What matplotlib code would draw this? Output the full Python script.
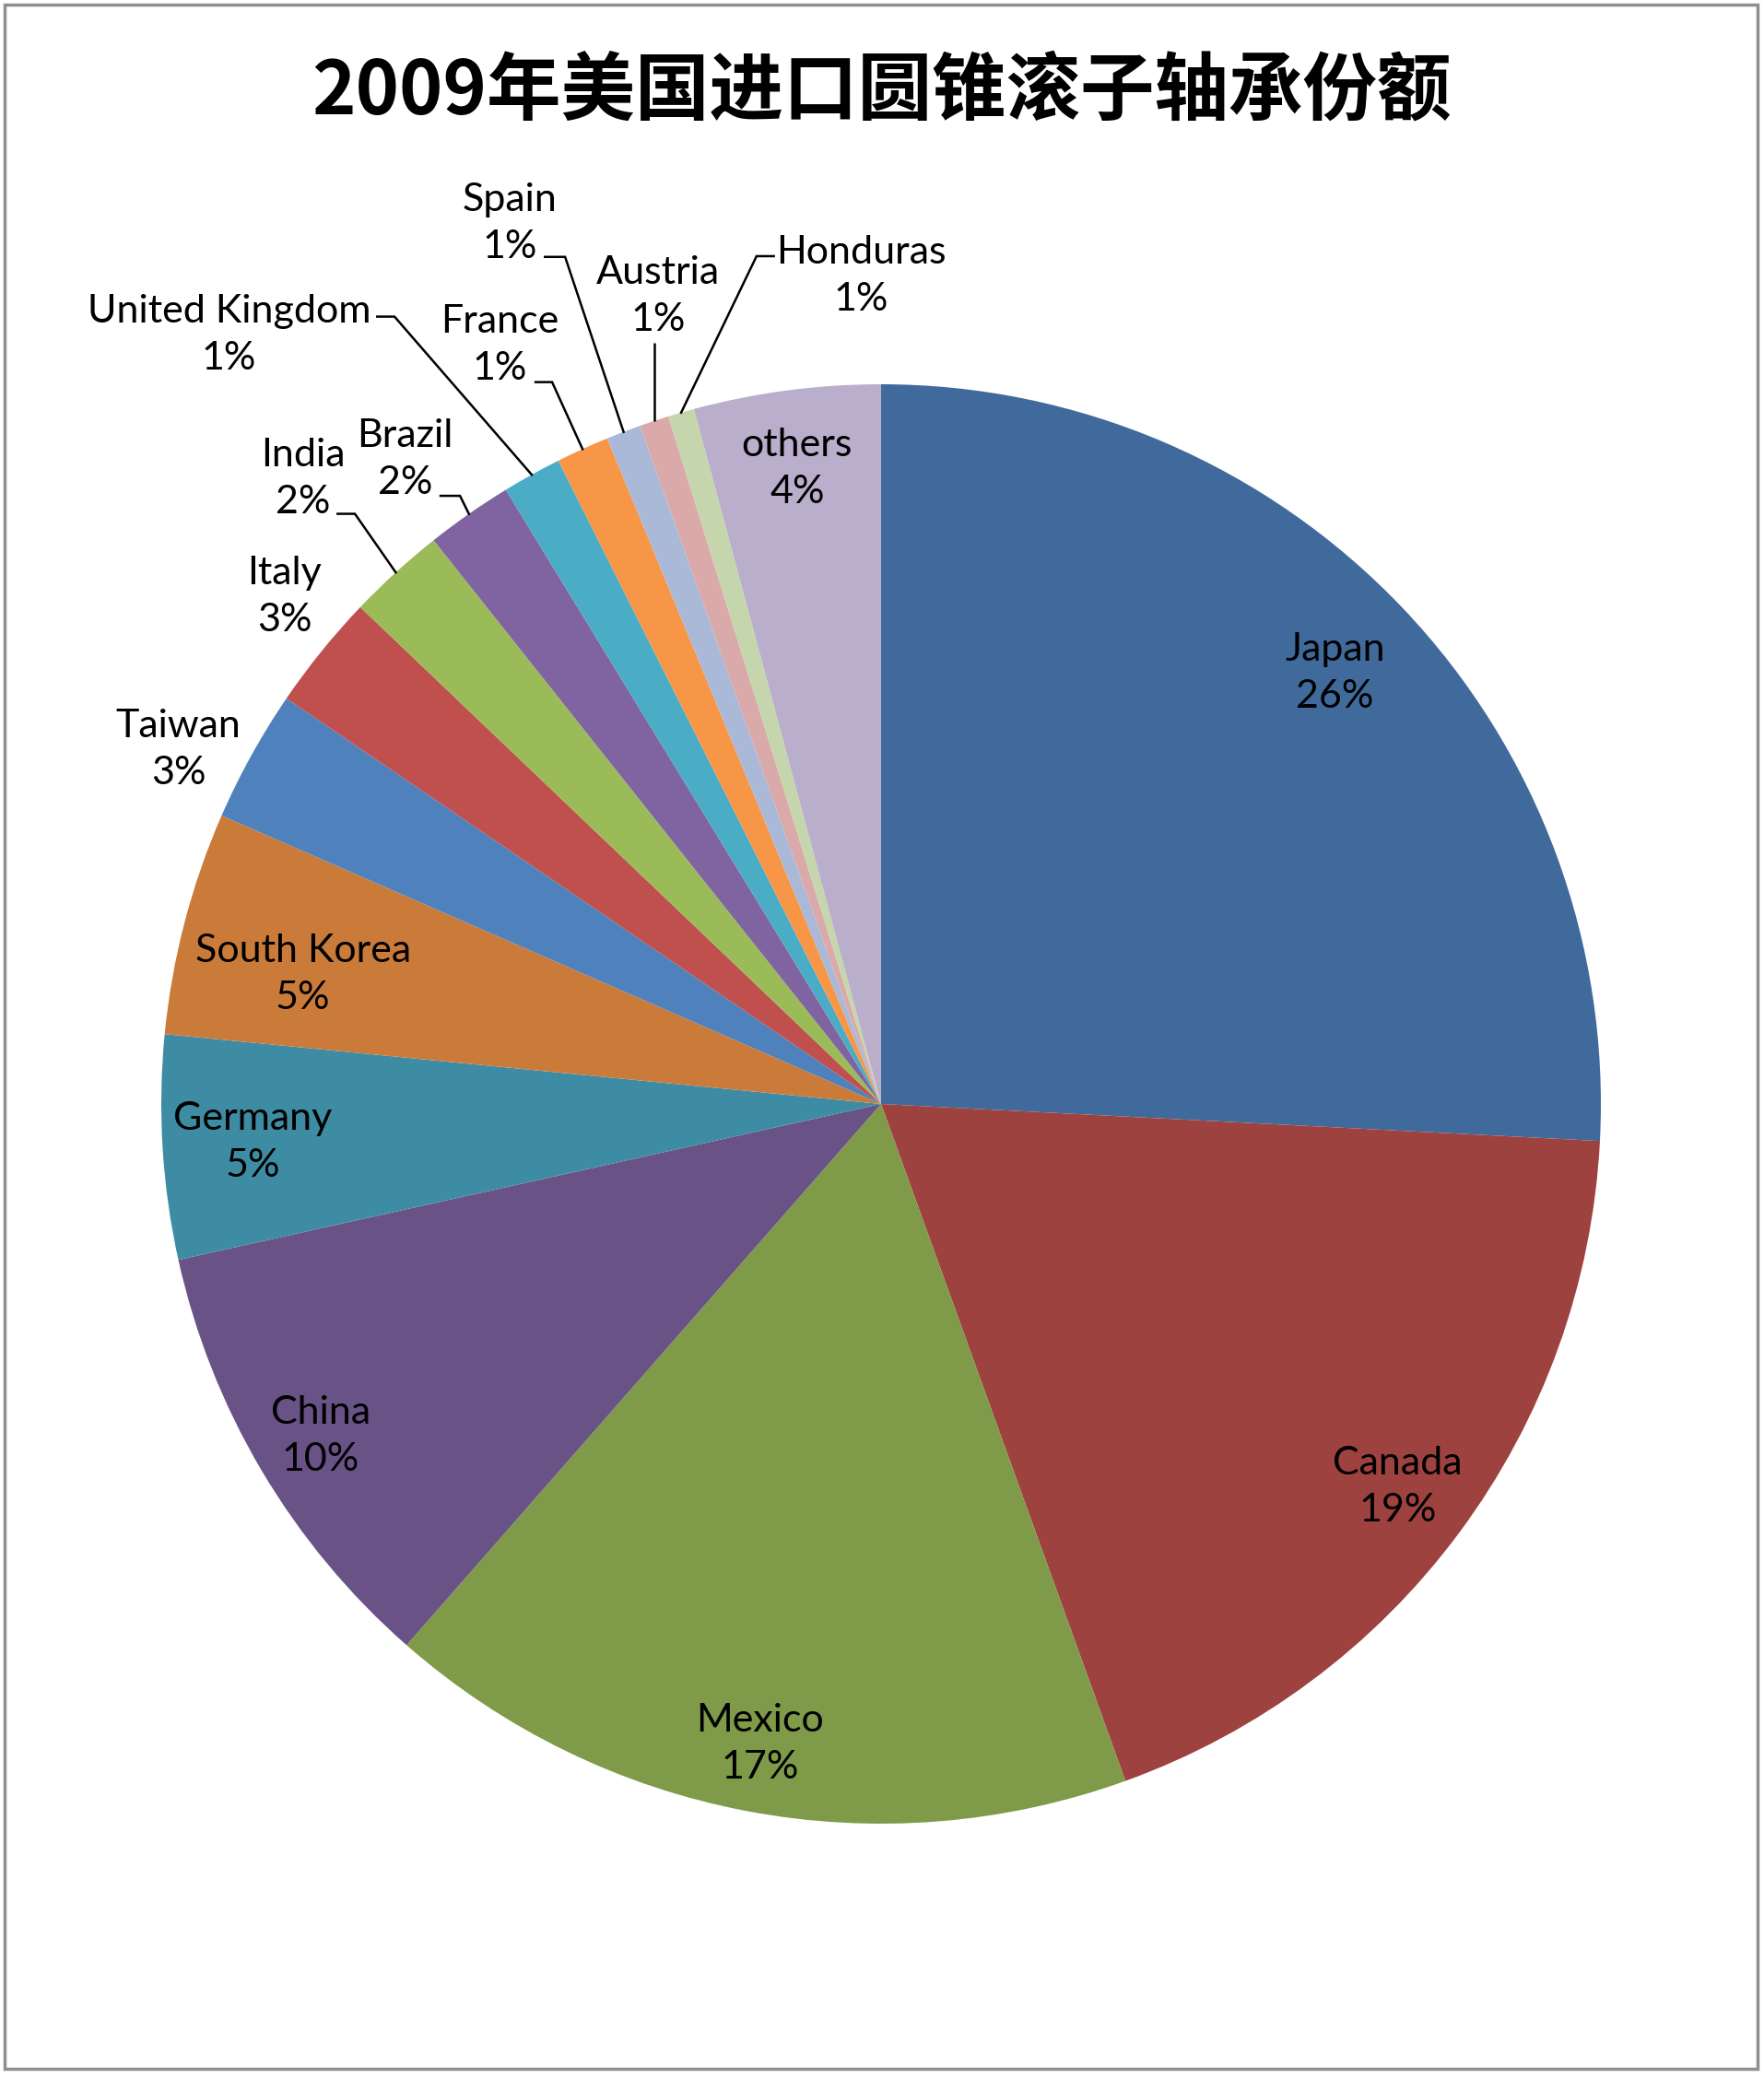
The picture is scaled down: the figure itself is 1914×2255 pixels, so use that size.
import numpy as np
import matplotlib
matplotlib.use("Agg")
import matplotlib.pyplot as plt
from matplotlib.patches import Rectangle

# ---- data ----
countries = ["Japan", "Canada", "Mexico", "China", "Germany", "South Korea",
             "Taiwan", "Italy", "India", "Brazil", "United Kingdom", "France",
             "Spain", "Austria", "Honduras", "others"]
shares = [25.85, 18.69, 16.99, 10.08, 5.03, 5.02, 2.97, 2.6, 2.2, 1.95,
          1.33, 1.19, 0.78, 0.66, 0.59, 4.19]
colors = ["#416A9C", "#9E423F", "#7F9A49", "#695285", "#3E8CA3", "#CB7B39",
          "#4F81BD", "#C0504D", "#9BBB59", "#8064A2", "#4BACC6", "#F79646",
          "#AAB9D7", "#D9AAA9", "#C6D6AC", "#B9AECB"]
title = "2009年美国进口圆锥滚子轴承份额"

# ---- layout (label placement, not data) ----
inside_r = {"Japan": 0.87, "Canada": 0.893, "Mexico": 0.905, "China": 0.905,
            "Germany": 0.875, "South Korea": 0.823, "others": 0.89}
inside_dang = {"South Korea": 2.0}
outside_pos = {  # label centre, leader horizontal segment (x_text_side, x_elbow, y)
    "Taiwan": ((-0.976, 0.492), None),
    "Italy": ((-0.829, 0.705), None),
    "India": ((-0.803, 0.869), (-0.755, -0.731, 0.820)),
    "Brazil": ((-0.661, 0.896), (-0.612, -0.585, 0.845)),
    "United Kingdom": ((-0.906, 1.068), (-0.700, -0.676, 1.094)),
    "France": ((-0.530, 1.054), (-0.480, -0.457, 1.003)),
    "Spain": ((-0.516, 1.223), (-0.467, -0.439, 1.177)),
    "Austria": ((-0.310, 1.122), "vertical"),
    "Honduras": ((-0.028, 1.151), (-0.149, -0.173, 1.178)),
}

W, H = 1915, 2255
fig = plt.figure(figsize=(W / 100, H / 100), dpi=100)
ax = fig.add_axes([0, 0, 1, 1])
cx, cy, R = 956, 1198, 781

wedges, _ = ax.pie(shares, colors=colors, startangle=90, counterclock=False,
                   radius=1.0, wedgeprops=dict(linewidth=0))
ax.set_aspect("auto")
ax.set_xlim(-cx / R, (W - cx) / R)
ax.set_ylim((cy - H) / R, cy / R)
ax.axis("off")

total = sum(shares)
lab_font = dict(family=["Lato", "DejaVu Sans"], fontsize=31, color="black")
LS = 1.42
for w, name, v in zip(wedges, countries, shares):
    pct = f"{round(v / total * 100):.0f}%"
    ang_deg = (w.theta1 + w.theta2) / 2
    ang = np.deg2rad(ang_deg)
    ex, ey = np.cos(ang), np.sin(ang)
    txt = f"{name}\n{pct}"
    if name in outside_pos:
        (tx, ty), leader = outside_pos[name]
        ax.text(tx, ty, txt, ha="center", va="center", linespacing=LS, **lab_font)
        if leader == "vertical":
            ax.plot([ex, ex], [ey, ty - 0.064], color="black", lw=1.8,
                    solid_capstyle="butt")
        elif leader is not None:
            x0, x1, y0 = leader
            ax.plot([x0, x1, ex], [y0, y0, ey], color="black", lw=1.8,
                    solid_joinstyle="miter")
    else:
        a2 = np.deg2rad(ang_deg + inside_dang.get(name, 0.0))
        r = inside_r[name]
        ax.text(r * np.cos(a2), r * np.sin(a2), txt, ha="center", va="center",
                linespacing=LS, **lab_font)

fig.text(956 / W, 1 - 100 / H, title, ha="center", va="center",
         fontsize=58, fontweight="bold",
         family=["Noto Sans CJK SC", "DejaVu Sans"])

fig.patches.append(Rectangle((5 / W, 1 - 2245 / H), (1907 - 5) / W, (2245 - 5) / H,
                             transform=fig.transFigure, fill=False,
                             edgecolor="#8F8F8F", linewidth=2.5))

fig.savefig("out.png", dpi=100, facecolor="white")
